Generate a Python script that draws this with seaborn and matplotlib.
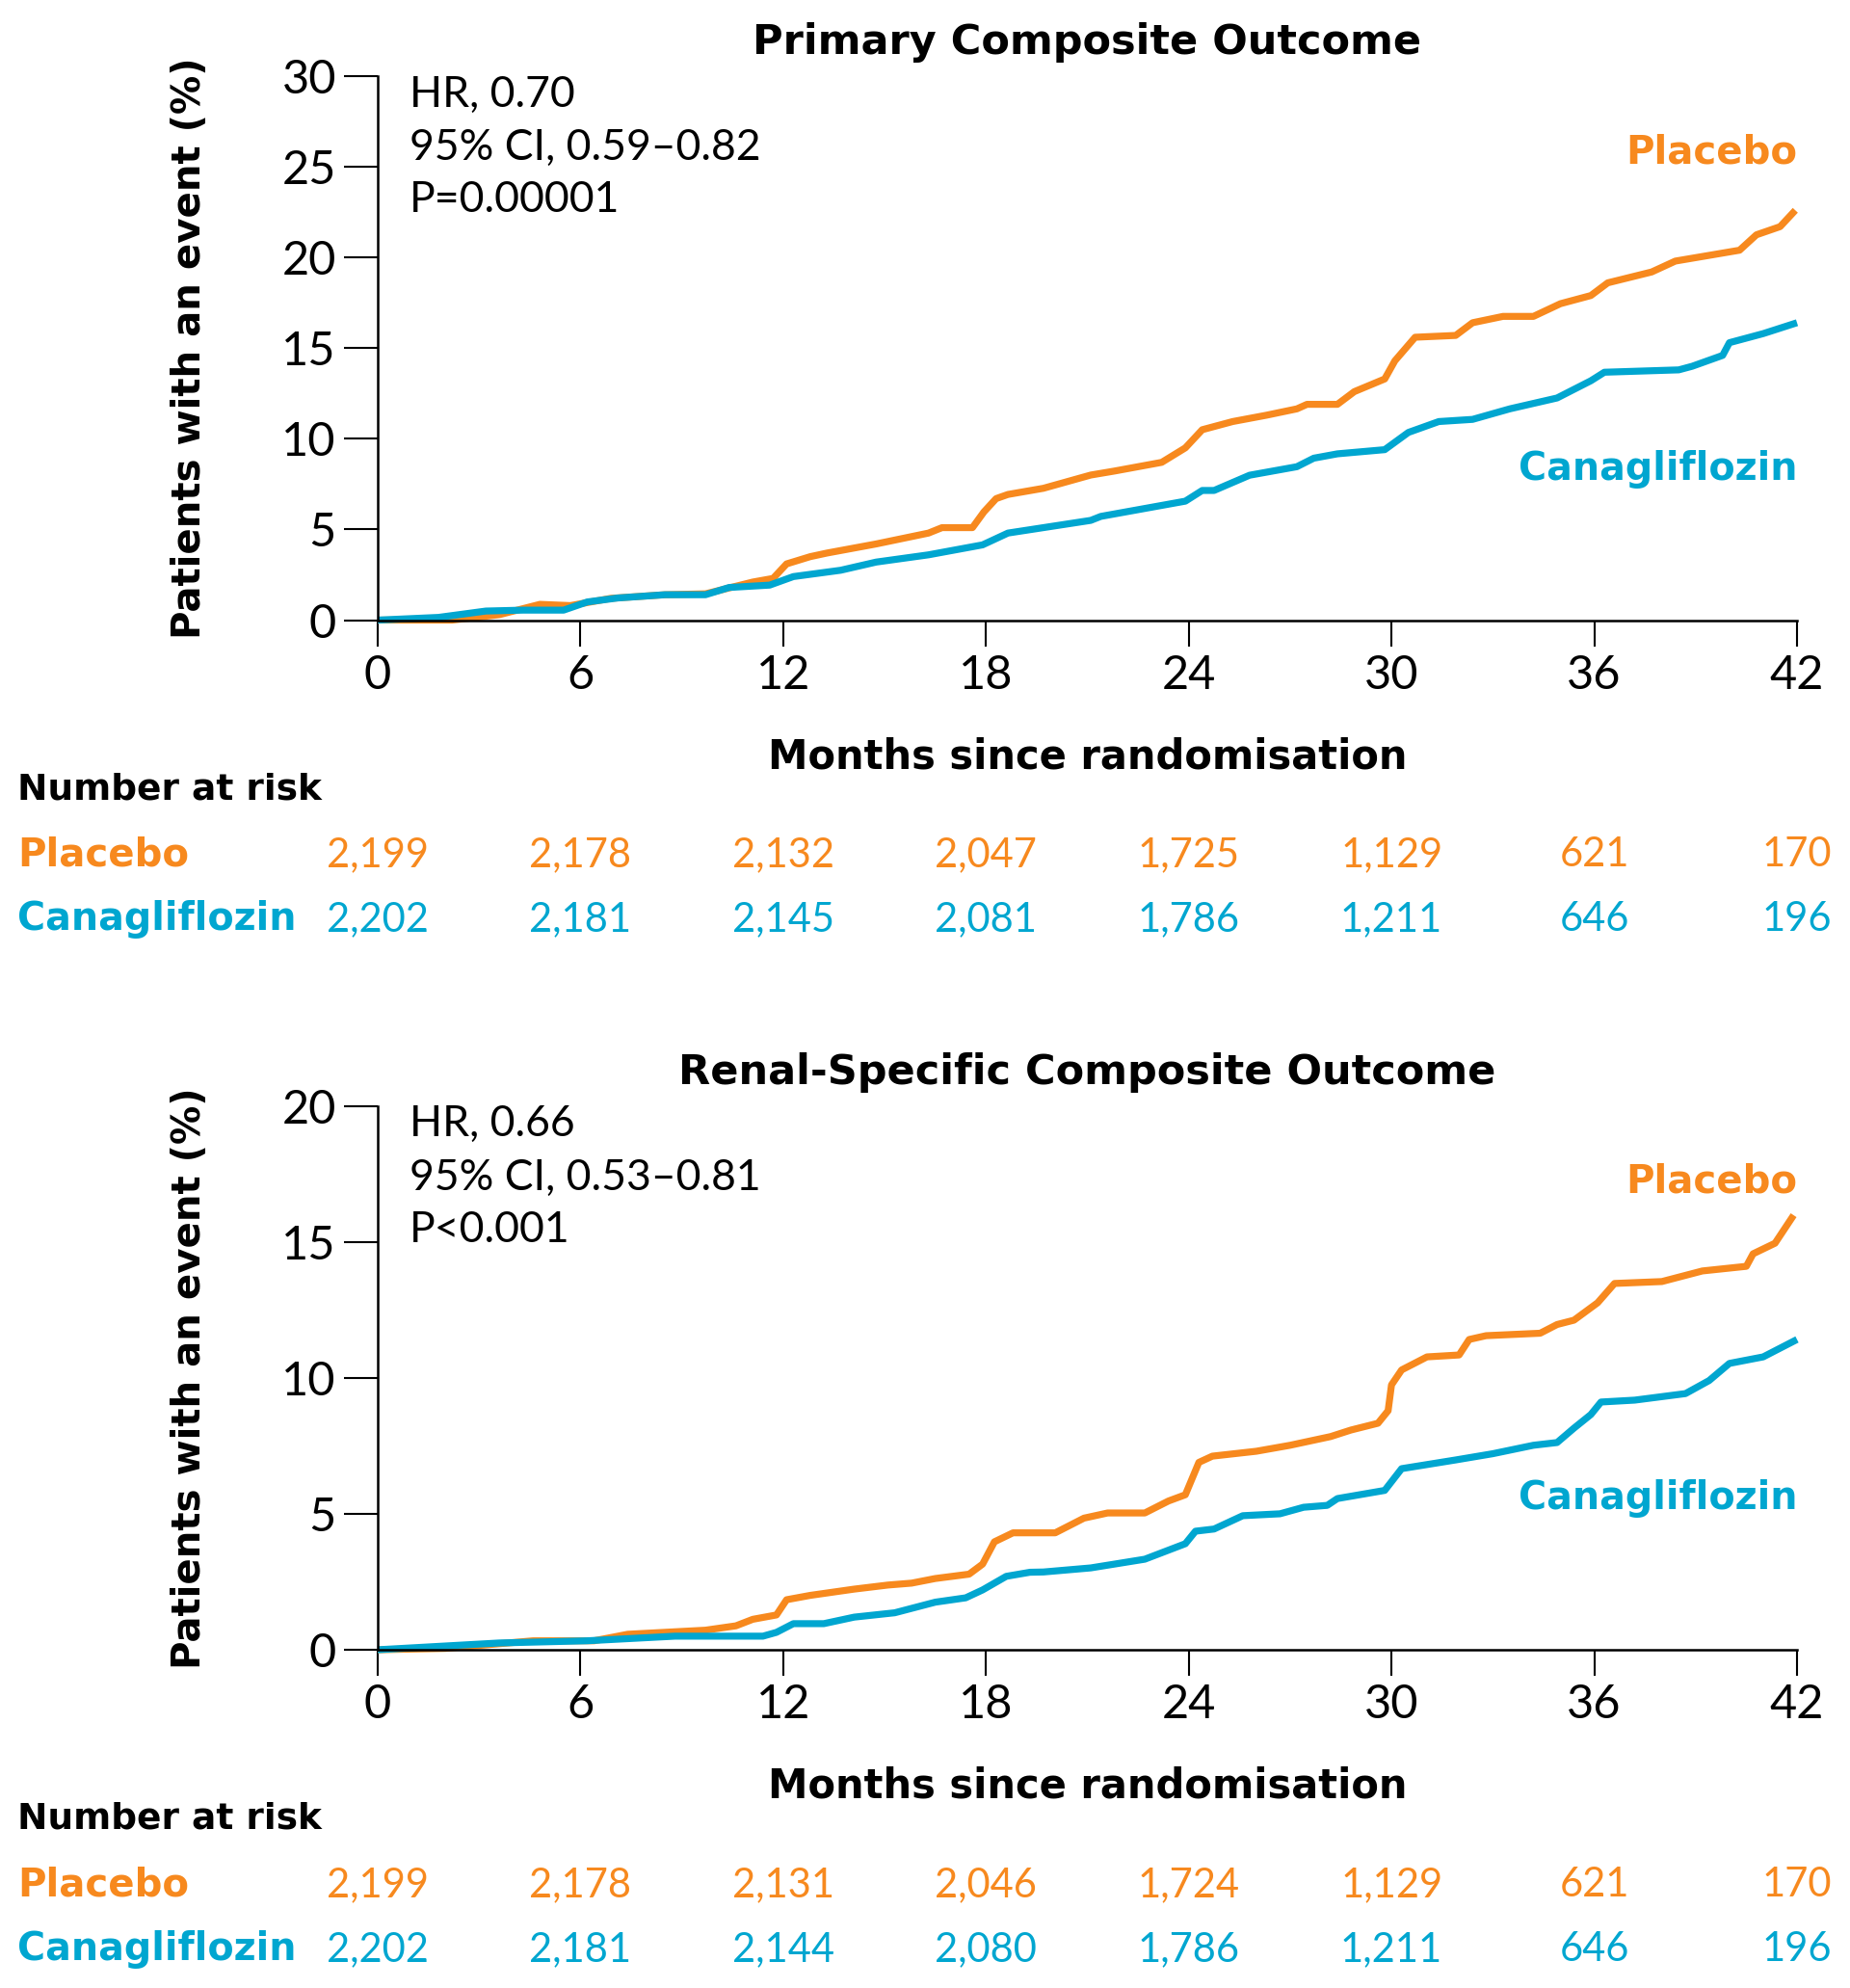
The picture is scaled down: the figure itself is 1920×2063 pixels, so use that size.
import numpy as np
import pandas as pd
import seaborn as sns
import matplotlib.pyplot as plt
import matplotlib.transforms as mtransforms

# ---------------- data ----------------
x_ticks = [0, 6, 12, 18, 24, 30, 36, 42]

# Primary composite outcome
prim_plac_m = [0, 2.2, 3.6, 4.8, 5.7, 6.9, 8.5, 9.7, 11.1, 11.7, 12.1, 12.8, 13.3, 14.75, 16.3, 16.7,
               17.6, 17.94, 18.3, 18.65, 19.7, 21.1, 21.8, 23.2, 23.9, 24.4, 25.3, 26.3, 27.2, 27.5,
               28.4, 28.9, 29.8, 30.1, 30.7, 31.9, 32.4, 33.3, 34.2, 35.0, 35.9, 36.4, 37.7, 38.4,
               40.3, 40.8, 41.5, 41.95]
prim_plac_v = [0, 0.0, 0.3, 0.87, 0.8, 1.2, 1.4, 1.45, 2.1, 2.3, 3.1, 3.5, 3.7, 4.2, 4.8, 5.1,
               5.1, 5.97, 6.7, 6.93, 7.27, 8.0, 8.22, 8.7, 9.5, 10.5, 10.95, 11.3, 11.65, 11.9,
               11.9, 12.6, 13.3, 14.3, 15.6, 15.7, 16.4, 16.75, 16.75, 17.45, 17.9, 18.6, 19.2, 19.8,
               20.4, 21.25, 21.7, 22.6]

prim_cana_m = [0, 1.8, 3.2, 4.3, 5.5, 6.2, 7.1, 8.5, 9.7, 10.4, 11.6, 12.3, 13.7, 14.75, 16.3,
               17.9, 18.65, 21.1, 21.4, 23.9, 24.4, 24.75, 25.8, 27.2, 27.7, 28.4, 29.8, 30.5, 31.4,
               32.4, 33.5, 34.9, 35.9, 36.3, 38.5, 38.9, 39.8, 40.0, 41.0, 42.0]
prim_cana_v = [0, 0.15, 0.5, 0.55, 0.55, 1.0, 1.22, 1.4, 1.4, 1.8, 1.93, 2.4, 2.75, 3.2, 3.6,
               4.15, 4.8, 5.5, 5.72, 6.56, 7.15, 7.15, 7.99, 8.46, 8.93, 9.17, 9.4, 10.35, 10.95,
               11.07, 11.65, 12.25, 13.2, 13.67, 13.8, 14.0, 14.6, 15.3, 15.8, 16.4]

# Renal-specific composite outcome
ren_plac_m = [0, 2.0, 4.6, 6.4, 7.4, 9.7, 10.6, 11.1, 11.8, 12.1, 12.8, 14.1, 15.1, 15.8, 16.5,
              17.5, 17.9, 18.25, 18.8, 20.05, 20.9, 21.6, 22.7, 23.4, 23.9, 24.3, 24.7, 26.0, 27.0,
              28.2, 28.8, 29.6, 29.9, 30.0, 30.3, 31.05, 32.0, 32.3, 32.8, 34.4, 34.9, 35.4, 36.1,
              36.6, 38.0, 39.2, 40.5, 40.7, 41.35, 41.9]
ren_plac_v = [0, 0.05, 0.33, 0.33, 0.57, 0.72, 0.88, 1.12, 1.28, 1.84, 2.0, 2.23, 2.38, 2.45, 2.62,
              2.78, 3.15, 3.97, 4.3, 4.3, 4.84, 5.03, 5.03, 5.47, 5.7, 6.89, 7.12, 7.3, 7.52,
              7.84, 8.08, 8.33, 8.79, 9.74, 10.29, 10.77, 10.84, 11.41, 11.55, 11.64, 11.96, 12.12, 12.76,
              13.47, 13.54, 13.93, 14.1, 14.56, 14.95, 15.98]

ren_cana_m = [0, 3.6, 6.2, 8.8, 11.4, 11.8, 12.3, 13.2, 14.1, 15.3, 16.5, 17.4, 17.9, 18.6, 19.3,
              19.7, 21.1, 22.7, 23.9, 24.2, 24.75, 25.6, 26.7, 27.4, 28.1, 28.4, 29.8, 30.3, 31.05,
              31.9, 33.0, 34.2, 34.9, 35.4, 35.9, 36.2, 37.2, 38.7, 39.4, 40.0, 41.0, 42.0]
ren_cana_v = [0, 0.25, 0.33, 0.5, 0.5, 0.64, 0.96, 0.96, 1.2, 1.36, 1.75, 1.91, 2.2, 2.7, 2.85,
              2.86, 3.01, 3.33, 3.9, 4.36, 4.44, 4.93, 5.0, 5.24, 5.31, 5.56, 5.86, 6.66, 6.81,
              6.98, 7.21, 7.52, 7.62, 8.15, 8.65, 9.11, 9.18, 9.42, 9.9, 10.53, 10.77, 11.41]

prim_risk_plac = ["2,199", "2,178", "2,132", "2,047", "1,725", "1,129", "621", "170"]
prim_risk_cana = ["2,202", "2,181", "2,145", "2,081", "1,786", "1,211", "646", "196"]
ren_risk_plac = ["2,199", "2,178", "2,131", "2,046", "1,724", "1,129", "621", "170"]
ren_risk_cana = ["2,202", "2,181", "2,144", "2,080", "1,786", "1,211", "646", "196"]

arms = ["Placebo", "Canagliflozin"]
ORANGE = "#F7891E"
BLUE = "#00A6D0"
palette = {"Placebo": ORANGE, "Canagliflozin": BLUE}

# ---------------- figure ----------------
sns.set_theme(style="white")
plt.rcParams['font.family'] = ['Lato', 'DejaVu Sans']
BOLD = dict(family=['DejaVu Sans'], fontweight="bold")

W, H = 1920, 2063
fig = plt.figure(figsize=(W / 100, H / 100), dpi=100)


def fx(px):
    return px / W


def fy(py):
    return 1 - py / H


def baseline(center_px, fs, cap=0.365):
    # convert a cap-centre pixel y into a baseline figure y
    return fy(center_px + cap * fs * 100 / 72)


panels = [
    dict(title="Primary Composite Outcome", ymax=30, yticks=[0, 5, 10, 15, 20, 25, 30],
         plac=(prim_plac_m, prim_plac_v), cana=(prim_cana_m, prim_cana_v),
         stats=["HR, 0.70", "95% CI, 0.59\u20130.82", "P=0.00001"],
         risk=(prim_risk_plac, prim_risk_cana),
         ax_top=79, ax_bot=643.5, title_y=40, xlabel_y=782, nar_y=(816, 884, 951),
         lab_y=(25.75, 8.3)),
    dict(title="Renal-Specific Composite Outcome", ymax=20, yticks=[0, 5, 10, 15, 20],
         plac=(ren_plac_m, ren_plac_v), cana=(ren_cana_m, ren_cana_v),
         stats=["HR, 0.66", "95% CI, 0.53\u20130.81", "P<0.001"],
         risk=(ren_risk_plac, ren_risk_cana),
         ax_top=1147.6, ax_bot=1712, title_y=1109, xlabel_y=1850, nar_y=(1884, 1953, 2020),
         lab_y=(17.2, 5.55)),
]

ax_left, ax_right = 392, 1865

for p in panels:
    ax = fig.add_axes([fx(ax_left), fy(p["ax_bot"]), fx(ax_right - ax_left),
                       (p["ax_bot"] - p["ax_top"]) / H])
    df = pd.concat([
        pd.DataFrame({"month": p["plac"][0], "pct": p["plac"][1], "arm": "Placebo"}),
        pd.DataFrame({"month": p["cana"][0], "pct": p["cana"][1], "arm": "Canagliflozin"}),
    ], ignore_index=True)
    sns.lineplot(data=df, x="month", y="pct", hue="arm", hue_order=arms, palette=palette,
                 estimator=None, sort=False, linewidth=5.2, legend=False, ax=ax)
    for ln in ax.lines:
        ln.set_clip_on(False)
        ln.set_solid_joinstyle("round")
        ln.set_solid_capstyle("butt")

    ax.set_xlim(0, 42)
    ax.set_ylim(0, p["ymax"])
    ax.set_xticks(x_ticks)
    ax.set_yticks(p["yticks"])
    ax.set_xlabel("")
    ax.set_ylabel("")
    for s in ["top", "right"]:
        ax.spines[s].set_visible(False)
    for s in ["left", "bottom"]:
        ax.spines[s].set_color("black")
        ax.spines[s].set_linewidth(1.8)
    ax.tick_params(axis="x", direction="out", length=19.5, width=1.5, color="black",
                   pad=6, labelsize=35, labelcolor="black", bottom=True)
    ax.tick_params(axis="y", direction="out", length=25, width=1.5, color="black",
                   pad=6, labelsize=35, labelcolor="black", left=True)
    ax.set_facecolor("white")

    # y label
    ax.text(fx(197), (fy(p["ax_bot"]) + fy(p["ax_top"])) / 2, "Patients with an event (%)",
            transform=fig.transFigure, rotation=90, ha="center", va="center",
            fontsize=29, color="black", **BOLD)

    # stats annotation
    for i, (t, yy) in enumerate(zip(p["stats"], [0.966, 0.868, 0.772])):
        ax.text(0.0224, yy, t, transform=ax.transAxes, ha="left", va="center",
                fontsize=32, color="black")

    # arm labels at end of curves
    ax.text(42, p["lab_y"][0], "Placebo", ha="right", va="center", fontsize=29,
            color=ORANGE, clip_on=False, **BOLD)
    ax.text(42, p["lab_y"][1], "Canagliflozin", ha="right", va="center", fontsize=28.5,
            color=BLUE, clip_on=False, **BOLD)

    # title
    fig.text(fx((ax_left + ax_right) / 2), baseline(p["title_y"], 31), p["title"],
             ha="center", va="baseline", fontsize=31, color="black", **BOLD)
    # x label
    fig.text(fx((ax_left + ax_right) / 2), baseline(p["xlabel_y"], 30), "Months since randomisation",
             ha="center", va="baseline", fontsize=30, color="black", **BOLD)

    # number at risk
    fig.text(fx(18), baseline(p["nar_y"][0], 27), "Number at risk", ha="left", va="baseline",
             fontsize=27, color="black", **BOLD)
    fig.text(fx(18), baseline(p["nar_y"][1], 29), "Placebo", ha="left", va="baseline",
             fontsize=29, color=ORANGE, **BOLD)
    fig.text(fx(18), baseline(p["nar_y"][2], 28.5), "Canagliflozin", ha="left", va="baseline",
             fontsize=28.5, color=BLUE, **BOLD)
    trans = mtransforms.blended_transform_factory(ax.transData, fig.transFigure)
    for xv, a, b in zip(x_ticks, p["risk"][0], p["risk"][1]):
        ax.text(xv, baseline(p["nar_y"][1], 30), a, transform=trans, ha="center",
                va="baseline", fontsize=30, color=ORANGE, clip_on=False)
        ax.text(xv, baseline(p["nar_y"][2], 30), b, transform=trans, ha="center",
                va="baseline", fontsize=30, color=BLUE, clip_on=False)

fig.patch.set_facecolor("white")
fig.savefig("out.png", dpi=100, facecolor="white")
